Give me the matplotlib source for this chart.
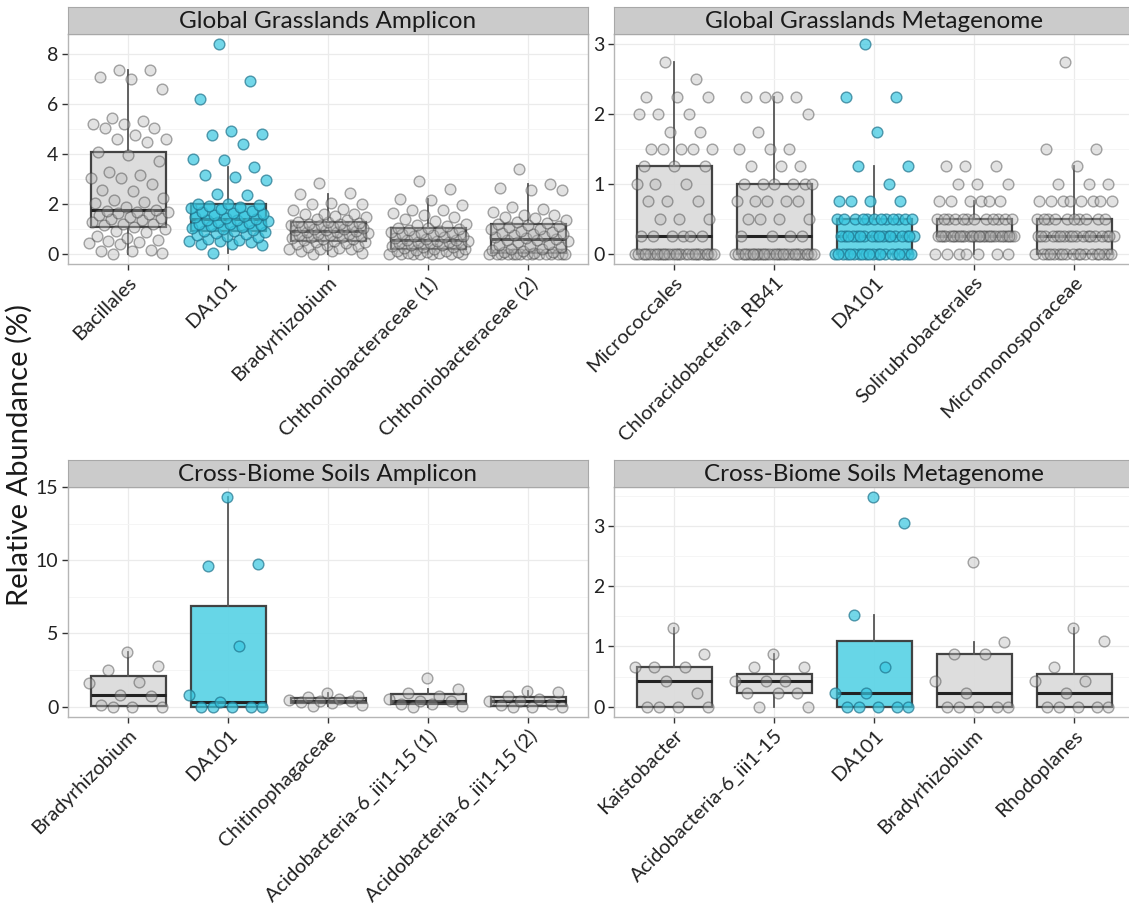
import matplotlib
matplotlib.use('Agg')
import matplotlib.pyplot as plt
import numpy as np
from matplotlib.ticker import MultipleLocator

plt.rcParams['font.family'] = ['Lato', 'DejaVu Sans']

# ---- data (relative abundance, %) ----
gga_labels = ['Bacillales', 'DA101', 'Bradyrhizobium',
              'Chthoniobacteraceae (1)', 'Chthoniobacteraceae (2)']
gga_bacillales = [0, 0.02, 0.12, 0.12, 0.15, 0.39, 0.42, 0.46, 0.5, 0.56, 0.64, 0.7, 0.87, 0.9, 1.0,
                  1.07, 1.14, 1.2, 1.2, 1.25, 1.34, 1.38, 1.41, 1.47, 1.54, 1.58, 1.61, 1.65, 1.68, 1.72,
                  1.75, 1.88, 2.02, 2.07, 2.15, 2.22, 2.5, 2.56, 2.77, 3.04, 3.04, 3.14, 3.25, 3.72, 3.93,
                  4.08, 4.45, 4.6, 4.6, 4.73, 5.03, 5.03, 5.2, 5.2, 5.3, 5.43, 6.6, 7.0, 7.05, 7.33, 7.33]
gga_da101 = [0.03, 0.35, 0.38, 0.4, 0.45, 0.5, 0.52, 0.55, 0.6, 0.66, 0.7, 0.75, 0.8, 0.83, 0.86,
             0.89, 0.92, 0.95, 1.0, 1.03, 1.06, 1.1, 1.13, 1.17, 1.2, 1.24, 1.28, 1.31, 1.33, 1.35,
             1.38, 1.42, 1.45, 1.5, 1.54, 1.58, 1.62, 1.67, 1.72, 1.77, 1.82, 1.87, 1.92, 1.95, 1.97,
             1.99, 2.33, 2.38, 2.95, 3.06, 3.14, 3.48, 3.74, 3.77, 4.39, 4.73, 4.8, 4.9, 6.2, 6.9, 8.37]
gga_brady = [0.0, 0.03, 0.09, 0.12, 0.18, 0.18, 0.18, 0.22, 0.28, 0.3, 0.35, 0.38, 0.42, 0.45, 0.48,
             0.5, 0.55, 0.58, 0.6, 0.63, 0.66, 0.68, 0.7, 0.73, 0.75, 0.78, 0.8, 0.83, 0.85, 0.88,
             0.89, 0.93, 0.95, 0.98, 1.0, 1.03, 1.05, 1.08, 1.1, 1.13, 1.15, 1.18, 1.2, 1.23, 1.25,
             1.27, 1.35, 1.4, 1.45, 1.5, 1.6, 1.6, 1.6, 1.76, 1.8, 1.97, 2.0, 2.02, 2.38, 2.43, 2.83]
gga_chthonio1 = [0, 0, 0, 0, 0, 0, 0, 0.02, 0.03, 0.05, 0.07, 0.1, 0.12, 0.15, 0.17,
                 0.19, 0.22, 0.25, 0.28, 0.3, 0.33, 0.36, 0.39, 0.42, 0.44, 0.46, 0.48, 0.5, 0.52, 0.54,
                 0.56, 0.6, 0.63, 0.66, 0.69, 0.72, 0.75, 0.78, 0.81, 0.84, 0.87, 0.9, 0.94, 0.98, 1.01,
                 1.04, 1.1, 1.15, 1.2, 1.3, 1.4, 1.47, 1.55, 1.61, 1.75, 1.75, 1.95, 2.15, 2.2, 2.59, 2.9]
gga_chthonio2 = [0] * 15 + [0.02, 0.05, 0.08, 0.1, 0.13, 0.17, 0.2, 0.25, 0.3, 0.35, 0.4, 0.45, 0.5, 0.53, 0.56,
                            0.58, 0.62, 0.66, 0.7, 0.74, 0.78, 0.8, 0.84, 0.88, 0.92, 0.97, 1.0, 1.05, 1.1, 1.15,
                            1.18, 1.22, 1.27, 1.35, 1.41, 1.48, 1.55, 1.55, 1.68, 1.8, 1.88, 2.53, 2.55, 2.64,
                            2.8, 3.37]

ggm_labels = ['Micrococcales', 'Chloracidobacteria_RB41', 'DA101',
              'Solirubrobacterales', 'Micromonosporaceae']
ggm_micrococ = ([0] * 28 + [0.25] * 6 + [0.5] * 3 + [0.75] * 3 + [1.0] * 3 + [1.25] * 3
                + [1.5] * 5 + [1.75] * 2 + [2.0] * 3 + [2.25] * 3 + [2.5] + [2.75])
ggm_chloracido = ([0] * 30 + [0.25] * 4 + [0.5] * 4 + [0.75] * 5 + [1.0] * 6 + [1.25] * 3
                  + [1.5] * 3 + [1.75] + [2.0] + [2.25] * 4)
ggm_da101 = ([0] * 20 + [0.25] * 18 + [0.5] * 12 + [0.75] * 4 + [1.0] + [1.25] * 2
             + [1.75] + [2.25] * 2 + [3.0])
ggm_soliru = [0] * 7 + [0.25] * 30 + [0.5] * 12 + [0.75] * 6 + [1.0] * 3 + [1.25] * 3
ggm_micromono = ([0] * 18 + [0.25] * 18 + [0.5] * 10 + [0.75] * 8 + [1.0] * 3 + [1.25]
                 + [1.5] * 2 + [2.75])

cba_labels = ['Bradyrhizobium', 'DA101', 'Chitinophagaceae',
              'Acidobacteria-6_iii1-15 (1)', 'Acidobacteria-6_iii1-15 (2)']
cba_brady = [0, 0, 0, 0.1, 0.75, 0.8, 1.59, 1.65, 2.5, 2.74, 3.7]
cba_da101 = [0, 0, 0, 0, 0, 0.34, 0.82, 4.15, 9.59, 9.77, 14.3]
cba_chitino = [0.05, 0.1, 0.25, 0.3, 0.35, 0.41, 0.45, 0.55, 0.65, 0.75, 0.9]
cba_acido1 = [0, 0.05, 0.15, 0.2, 0.35, 0.41, 0.55, 0.75, 0.9, 1.22, 1.95]
cba_acido2 = [0, 0, 0, 0.1, 0.2, 0.36, 0.4, 0.5, 0.75, 1.0, 1.05]

cbm_labels = ['Kaistobacter', 'Acidobacteria-6_iii1-15', 'DA101',
              'Bradyrhizobium', 'Rhodoplanes']
cbm_kaisto = [0, 0, 0, 0, 0.22, 0.43, 0.66, 0.66, 0.66, 0.88, 1.31]
cbm_acido = [0, 0, 0.22, 0.22, 0.22, 0.43, 0.43, 0.43, 0.66, 0.66, 0.87]
cbm_da101 = [0, 0, 0, 0, 0, 0.22, 0.22, 0.66, 1.53, 3.06, 3.48]
cbm_brady = [0, 0, 0, 0, 0, 0.22, 0.43, 0.88, 0.88, 1.08, 2.4]
cbm_rhodo = [0, 0, 0, 0, 0, 0.22, 0.43, 0.43, 0.66, 1.09, 1.31]

# ---- styling ----
W, H = 1129, 917
GREY_BOX = '#DCDCDC'
CYAN_BOX = '#5FD4E6'
EDGE = '#3A3A3A'


def px_rect(x0, y0, x1, y1):
    # pixel box (top-left origin) -> figure fraction rect
    return [x0 / W, 1 - y1 / H, (x1 - x0) / W, (y1 - y0) / H]


def jitter(n):
    # deterministic horizontal spread, +-0.4 of a category
    return np.array([((i * 0.618034 + 0.31) % 1.0 - 0.5) * 0.8 for i in range(n)])


def draw_panel(fig, x0, y0, x1, y1, title, labels, groups, ystep):
    ax = fig.add_axes(px_rect(x0, y0, x1, y1))
    pos = np.arange(1, len(labels) + 1)
    bp = ax.boxplot(groups, positions=pos, widths=0.75, patch_artist=True,
                    showfliers=False, showcaps=False, whis=1.5, zorder=2,
                    boxprops=dict(edgecolor=EDGE, linewidth=1.6),
                    medianprops=dict(color='#222222', linewidth=2.2),
                    whiskerprops=dict(color='#555555', linewidth=1.3))
    for patch, lab in zip(bp['boxes'], labels):
        patch.set_facecolor(CYAN_BOX if lab == 'DA101' else GREY_BOX)
        patch.set_alpha(0.95)
    for p, vals, lab in zip(pos, groups, labels):
        xs = p + jitter(len(vals))
        if lab == 'DA101':
            fc, ec = (0.22, 0.78, 0.88, 0.7), (0.12, 0.45, 0.55, 0.7)
        else:
            fc, ec = (0.72, 0.72, 0.72, 0.4), (0.25, 0.25, 0.25, 0.45)
        ax.scatter(xs, vals, s=60, facecolors=fc, edgecolors=ec, linewidths=1.0, zorder=3)

    ax.set_xlim(0.4, len(labels) + 0.6)
    ax.margins(y=0.05)
    ax.yaxis.set_major_locator(MultipleLocator(ystep))
    ax.yaxis.set_minor_locator(MultipleLocator(ystep / 2))
    ax.set_xticks(pos)
    ax.set_xticklabels(labels, rotation=45, ha='right', va='top',
                       rotation_mode='anchor', fontsize=14.5, color='#222222')
    ax.tick_params(axis='y', labelsize=14, labelcolor='#222222')
    ax.tick_params(which='major', length=4, width=1, color='#333333', pad=3)
    ax.tick_params(which='minor', length=0)
    ax.set_axisbelow(True)
    ax.grid(which='major', color='#EBEBEB', linewidth=0.9)
    ax.grid(which='minor', axis='y', color='#F5F5F5', linewidth=0.7)
    for sp in ax.spines.values():
        sp.set_color('#B5B5B5')
        sp.set_linewidth(1.0)

    # facet strip
    sx = fig.add_axes(px_rect(x0, y0 - 27, x1, y0))
    sx.set_facecolor('#CBCBCB')
    sx.set_xticks([])
    sx.set_yticks([])
    for sp in sx.spines.values():
        sp.set_color('#A8A8A8')
    sx.text(0.5, 0.45, title, ha='center', va='center', fontsize=17.5,
            color='#1A1A1A', transform=sx.transAxes)
    return ax


fig = plt.figure(figsize=(W / 100, H / 100), dpi=100)

draw_panel(fig, 68, 34, 588, 264, 'Global Grasslands Amplicon', gga_labels,
           [gga_bacillales, gga_da101, gga_brady, gga_chthonio1, gga_chthonio2], 2)
draw_panel(fig, 614, 34, 1134, 264, 'Global Grasslands Metagenome', ggm_labels,
           [ggm_micrococ, ggm_chloracido, ggm_da101, ggm_soliru, ggm_micromono], 1)
draw_panel(fig, 68, 487, 588, 717, 'Cross-Biome Soils Amplicon', cba_labels,
           [cba_brady, cba_da101, cba_chitino, cba_acido1, cba_acido2], 5)
draw_panel(fig, 614, 487, 1134, 717, 'Cross-Biome Soils Metagenome', cbm_labels,
           [cbm_kaisto, cbm_acido, cbm_da101, cbm_brady, cbm_rhodo], 1)

fig.text(19 / W, 1 - 455 / H, 'Relative Abundance (%)', rotation=90,
         ha='center', va='center', fontsize=21, color='#1A1A1A')

fig.savefig('out.png', dpi=100)
